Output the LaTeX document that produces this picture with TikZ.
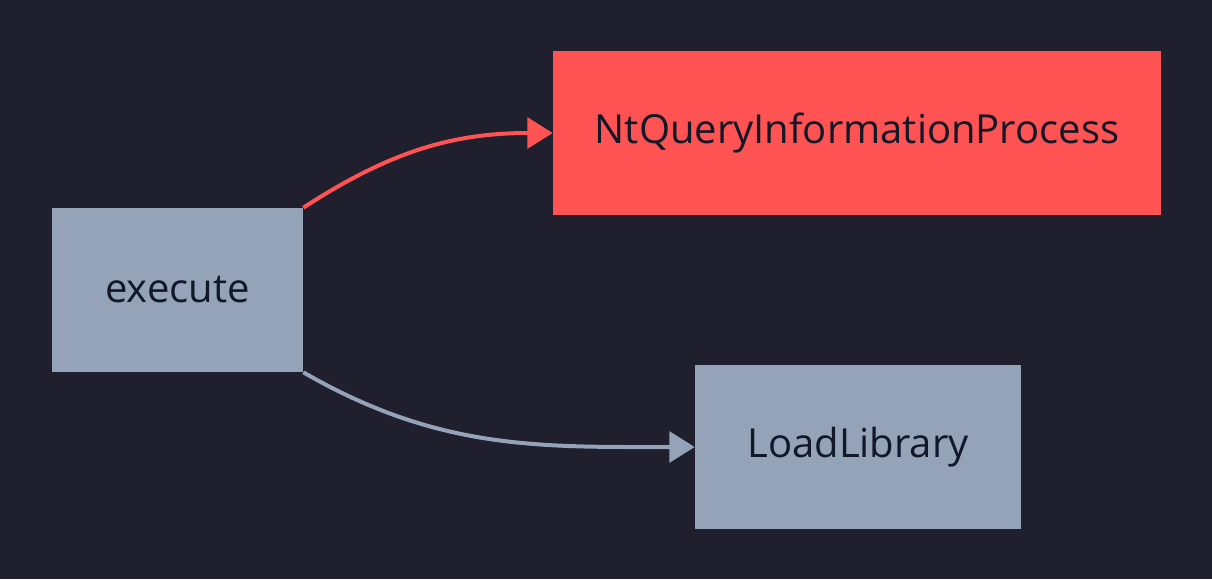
\documentclass[tikz,border=0pt]{standalone}
\usepackage{fontspec}
\setmainfont{Open Sans}
\usetikzlibrary{arrows.meta}
\definecolor{bgc}{HTML}{1F1F2E}
\definecolor{grayc}{HTML}{94A3B8}
\definecolor{redc}{HTML}{FF5252}
\definecolor{txt}{HTML}{111827}
\begin{document}
\begin{tikzpicture}[x=0.75pt,y=-0.75pt,
  box/.style={draw=none,minimum width=#1*0.75pt,minimum height=164*0.75pt,inner sep=0pt,font=\fontsize{30}{36}\selectfont,text=txt},
  conn/.style={line width=3pt,-{Triangle[length=19pt,width=23pt]}}]
\fill[bgc] (0,0) rectangle (1212,579);
\useasboundingbox (0,0) rectangle (1212,579);
\node[box=251,fill=grayc] (exec) at (177.5,290) {execute};
\node[box=608,fill=redc] (ntq) at (857,133) {NtQueryInformationProcess};
\node[box=326,fill=grayc] (ll) at (858,447) {LoadLibrary};
\draw[conn,redc] (exec.north east) to[out=33,in=180] (ntq.west);
\draw[conn,grayc] (exec.south east) to[out=-30,in=180] (ll.west);
\end{tikzpicture}
\end{document}
